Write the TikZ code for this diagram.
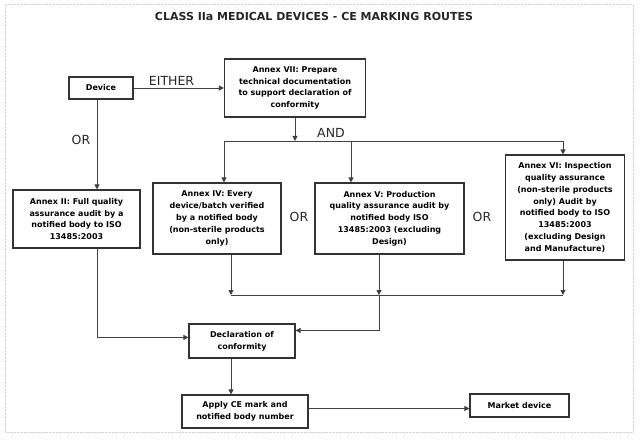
\documentclass[tikz,border=0pt]{standalone}
\usepackage{fontspec}
\setmainfont{DejaVu Sans}
\usetikzlibrary{arrows.meta, positioning}
\tikzset{stepbox/.style = {draw=black!80, line width=1.1pt, fill=white, align=center,
    font=\fontsize{8}{11.8}\selectfont\bfseries, inner sep=1pt, minimum width=#1},
  stepbox/.default = 100pt,
  link/.style = {draw=black!75, line width=0.9pt},
  arr/.style = {link, -{Triangle[length=5pt,width=5pt]}},
  route/.style = {font=\fontsize{12.5}{14}\selectfont, text=black!85}}

\begin{document}
\begin{tikzpicture}[x=1pt,y=-1pt]
\useasboundingbox (0,0) rectangle (640,441);
\draw[gray!35, densely dotted] (5,4) rectangle (633,432);
\node[font=\fontsize{11}{13}\selectfont\bfseries, text=black!85] (title) at (314,16)
  {CLASS IIa MEDICAL DEVICES - CE MARKING ROUTES};
% boxes
\node[stepbox=64pt, minimum height=22pt] (device) at (101,88) {Device};
\node[stepbox=141pt, minimum height=58pt] (annex7) at (295,88)
  {Annex VII: Prepare\\technical documentation\\to support declaration of\\conformity};
\node[stepbox=127pt, minimum height=58pt] (annex2) at (76.5,219)
  {Annex II: Full quality\\assurance audit by a\\notified body to ISO\\13485:2003};
\node[stepbox=128pt, minimum height=71pt] (annex4) at (217,218.5)
  {Annex IV: Every\\device/batch verified\\by a notified body\\(non-sterile products\\only)};
\node[stepbox=149pt, minimum height=71pt] (annex5) at (389.5,218.5)
  {Annex V: Production\\quality assurance audit by\\notified body ISO\\13485:2003 (excluding\\Design)};
\node[stepbox=119pt, minimum height=105pt] (annex6) at (565,207.5)
  {Annex VI: Inspection\\quality assurance\\(non-sterile products\\only) Audit by\\notified body to ISO\\13485:2003\\(excluding Design\\and Manufacture)};
\node[stepbox=106pt, minimum height=34pt] (decl) at (242,341) {Declaration of\\conformity};
\node[stepbox=126pt, minimum height=33pt] (apply) at (245,411.5) {Apply CE mark and\\notified body number};
\node[stepbox=99pt, minimum height=23pt] (market) at (519.5,405.5) {Market device};
% route labels
\node[route] (or1) at (81,140) {OR};
\node[route] (and) at (331,133) {AND};
\node[route] (or2) at (299,217) {OR};
\node[route] (or3) at (482,217) {OR};
% junctions
\coordinate (split) at ([xshift=-4pt]device.south);
\coordinate (andL) at (224,141);
\coordinate (andM) at (351,141);
\coordinate (andR) at (563,141);
\coordinate (colL) at (231,295);
\coordinate (colM) at (379,295);
\coordinate (colR) at (563,295);
% connectors
\draw[arr] (device) -- node[route, above=-1pt, pos=0.42] (either) {EITHER} (annex7);
\draw[arr] (split) -- (split |- annex2.north);
\draw[arr] (annex7.south) -- (annex7.south |- andL);
\draw[link] (andL) -- (andR);
\draw[arr] (andL) -- (andL |- annex4.north);
\draw[arr] (andM) -- (andM |- annex5.north);
\draw[arr] (andR) -- (andR |- annex6.north);
\draw[arr] (annex4.south -| colL) -- (colL);
\draw[arr] (annex5.south -| colM) -- (colM);
\draw[arr] (annex6.south -| colR) -- (colR);
\draw[link] (colL) -- (colR);
\draw[arr] (colM) |- ([yshift=-7pt]decl.north east);
\draw[arr] (split |- annex2.south) |- ([yshift=-14pt]decl.north west);
\draw[arr] (decl.south -| colL) -- (colL |- apply.north);
\draw[arr] ([yshift=3pt]apply.east) -- ([yshift=3pt]apply.east -| market.west);
\end{tikzpicture}
\end{document}
